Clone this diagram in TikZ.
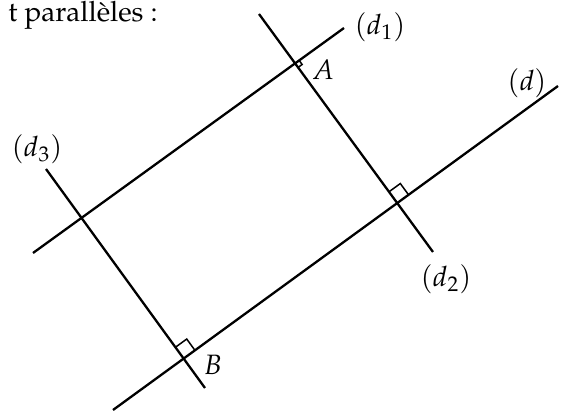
\documentclass[tikz,border=0pt]{standalone}
\usepackage[T1]{fontenc}
\usepackage{mathpazo}
\usetikzlibrary{calc}
\begin{document}
\begin{tikzpicture}[x=0.5pt,y=-0.5pt,
  droite/.style={line width=1.15pt},
  angdroit/.style={line width=0.75pt},
  lbl/.style={inner sep=0pt,font=\fontsize{14}{16}\selectfont}]
\useasboundingbox (0,0) rectangle (563,411);
% line end points
\coordinate (dS) at (113,410);
\coordinate (dE) at (558,86);
\coordinate (d1S) at (33,253);
\coordinate (d1E) at (344,28);
\coordinate (d2S) at (259,14);
\coordinate (d2E) at (433,252);
\coordinate (d3S) at (46,169);
\coordinate (d3E) at (205,388);
% intersections
\coordinate (A) at (intersection of d1S--d1E and d2S--d2E);
\coordinate (I2) at (intersection of dS--dE and d2S--d2E);
\coordinate (B) at (intersection of dS--dE and d3S--d3E);
% lines
\draw[droite] (dS) -- (dE);
\draw[droite] (d1S) -- (d1E);
\draw[droite] (d2S) -- (d2E);
\draw[droite] (d3S) -- (d3E);
% right angle marks
\coordinate (r1a) at ($(I2)!7pt!(A)$);
\coordinate (r1b) at ($(I2)!7pt!(dE)$);
\draw[angdroit] (r1a) -- ($(r1a)+(r1b)-(I2)$) -- (r1b);
\coordinate (r2a) at ($(B)!7pt!(d3S)$);
\coordinate (r2b) at ($(B)!7pt!(dE)$);
\draw[angdroit] (r2a) -- ($(r2a)+(r2b)-(B)$) -- (r2b);
\coordinate (r3a) at ($(A)!2.5pt!(I2)$);
\coordinate (r3b) at ($(A)!2.5pt!(d1E)$);
\draw[angdroit] (r3a) -- ($(r3a)+(r3b)-(A)$) -- (r3b);
% labels
\node[lbl,anchor=base east] (txt) at (158,22) {t parall\`eles :};
\node[lbl] (ld1) at (380,27) {$(d_1)$};
\node[lbl] (lA) at (323,70) {$A$};
\node[lbl] (ld) at (527,83) {$(d)$};
\node[lbl] (ld3) at (37,149) {$(d_3)$};
\node[lbl] (ld2) at (446,279) {$(d_2)$};
\node[lbl] (lB) at (213,365) {$B$};
\end{tikzpicture}
\end{document}
